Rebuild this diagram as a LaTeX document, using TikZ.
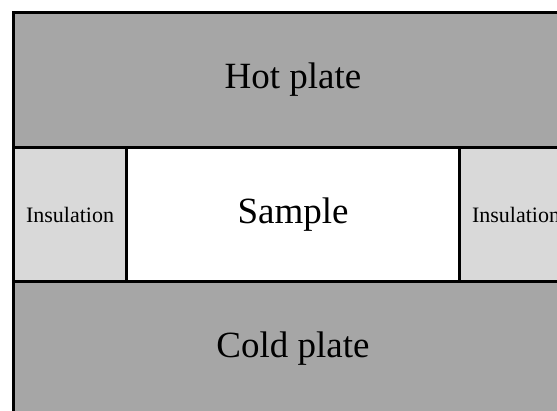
\documentclass[tikz,border=0pt]{standalone}
\usepackage{fontspec}
\setmainfont{Liberation Serif}
\definecolor{plategray}{HTML}{A6A6A6}
\definecolor{insgray}{HTML}{D9D9D9}
\begin{document}
\begin{tikzpicture}[x=1pt,y=-1pt,
  cell/.style={draw=black,line width=3pt,inner sep=0pt,anchor=north west,font=\fontsize{37}{44}\selectfont},
  plate/.style={cell,fill=plategray,minimum width=559pt,minimum height=135pt},
  insul/.style={cell,fill=insgray,minimum width=113pt,minimum height=134pt,font=\fontsize{22}{26}\selectfont},
  specimen/.style={cell,fill=white,minimum width=333pt,minimum height=134pt}]
  \useasboundingbox (0,0) rectangle (557,411);
  \clip (0,0) rectangle (557,411);
  \fill[white] (0,0) rectangle (557,411);
  % heater on top, coolant below, sample with insulation in between
  \node[plate] (hot) at (12,11) {Hot plate};
  \node[plate] (cold) at (12,280) {Cold plate};
  \node[insul] (insl) at (12,146) {Insulation};
  \node[specimen] (sample) at (125,146) {Sample};
  \node[insul] (insr) at (458,146) {Insulation};
\end{tikzpicture}
\end{document}
